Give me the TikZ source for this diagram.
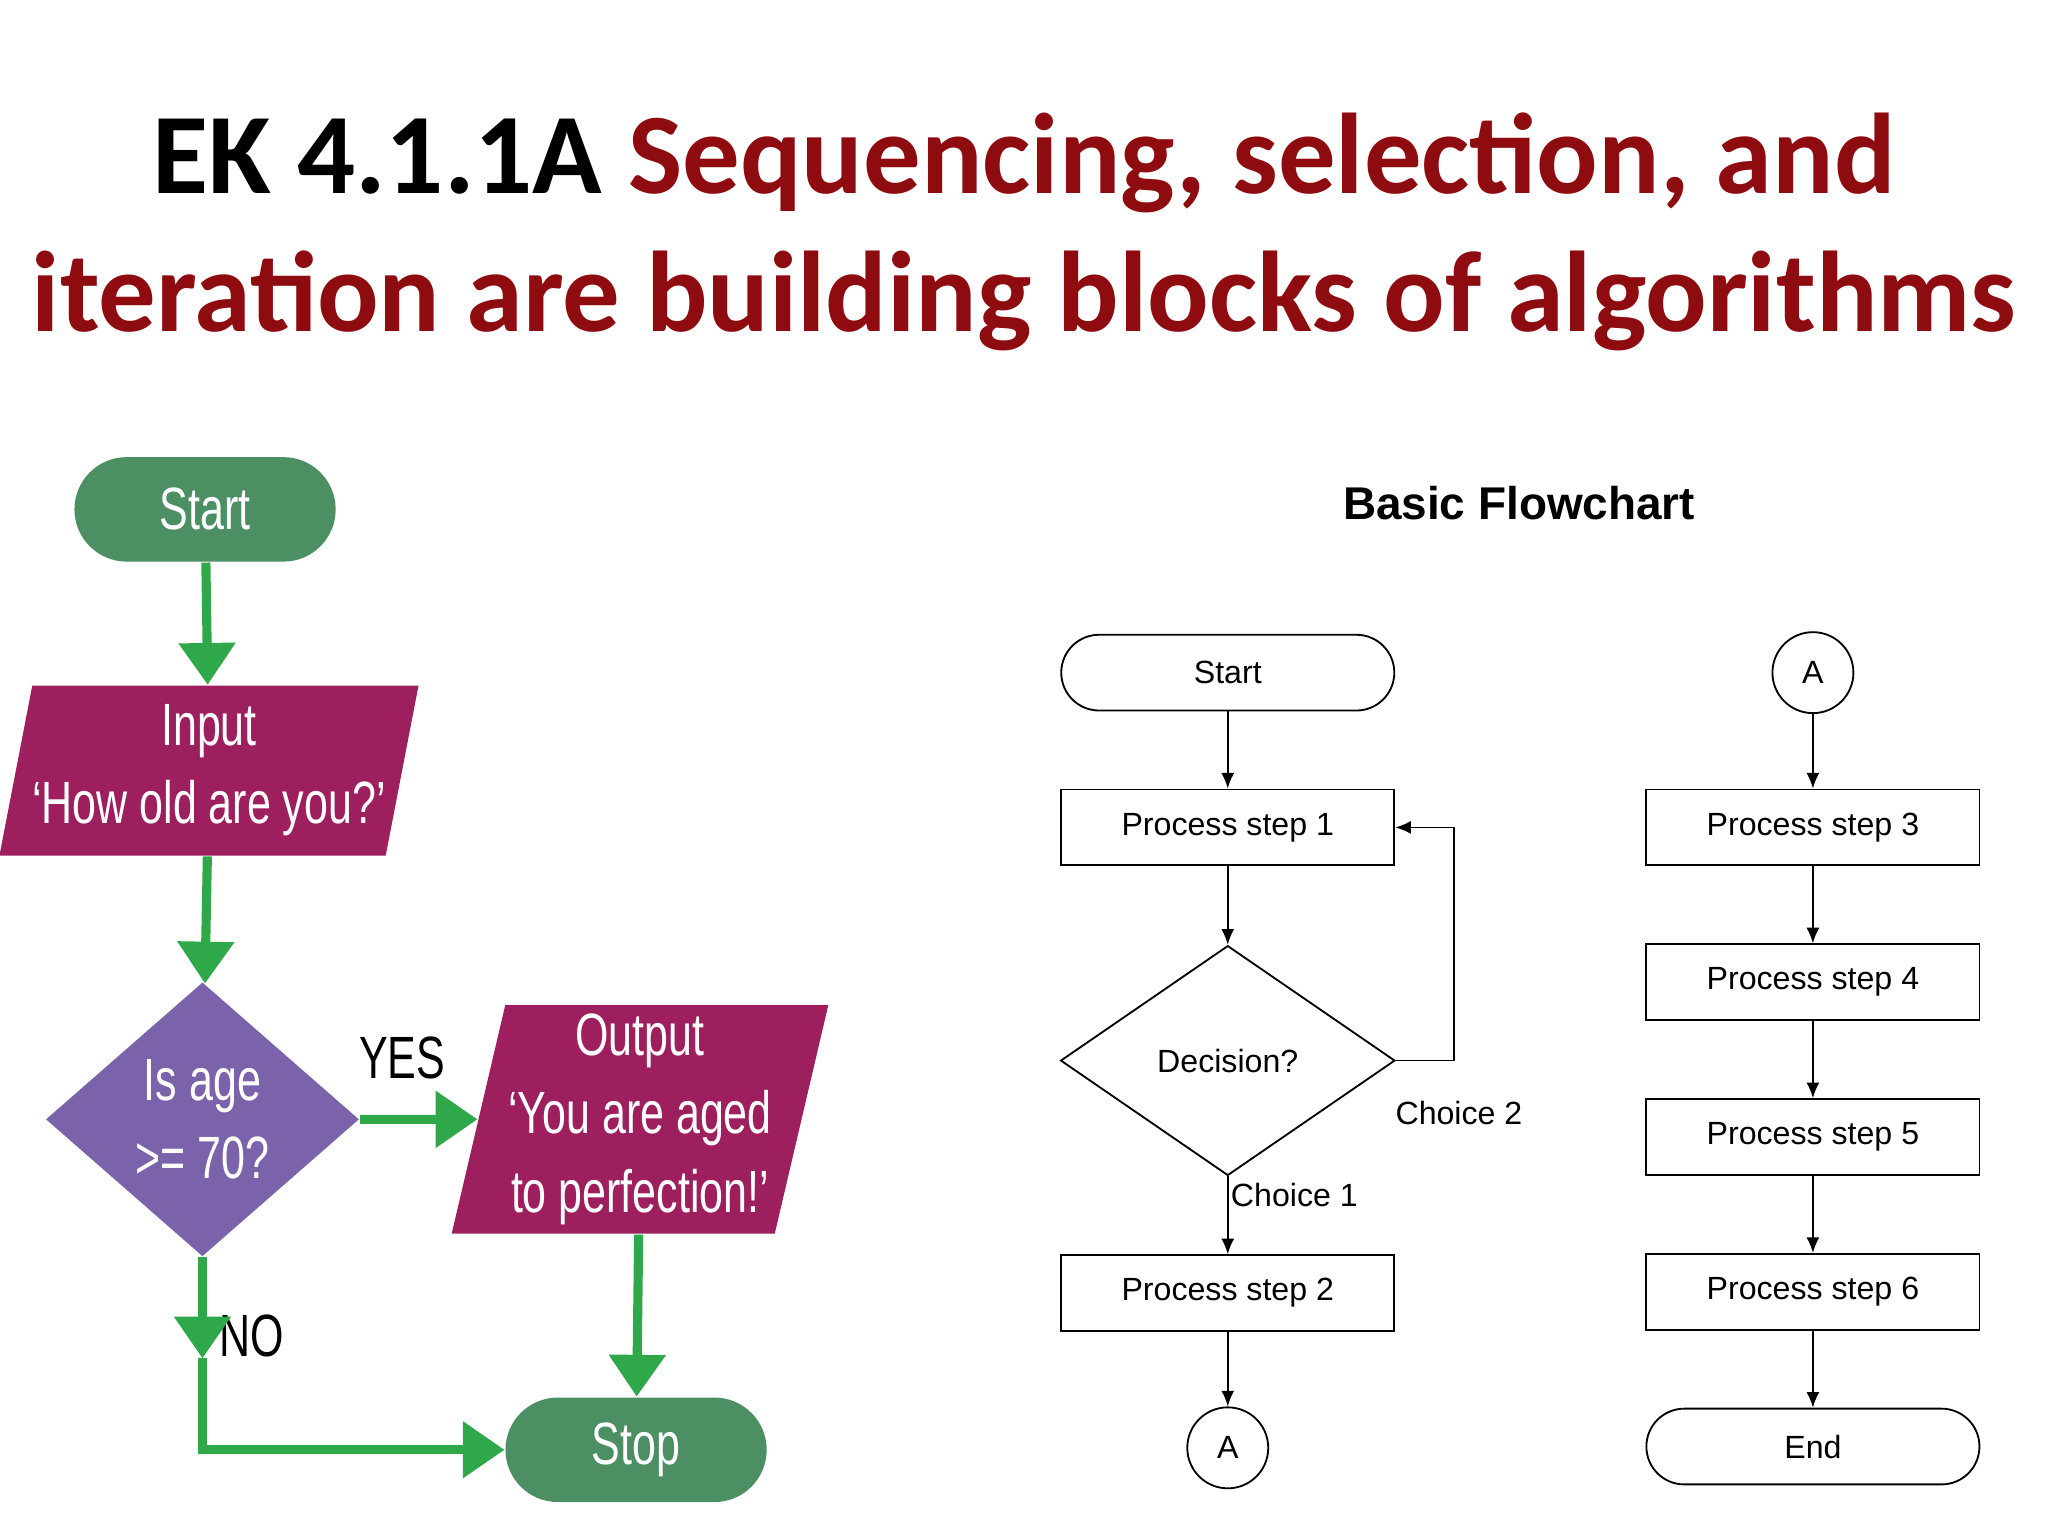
\documentclass[tikz,border=0pt]{standalone}
\usepackage{fontspec}
\setmainfont{Carlito}
\newfontfamily\narrowf{Liberation Sans}[FakeStretch=0.72]
\newfontfamily\chartf{Liberation Sans}
\usetikzlibrary{arrows.meta,shapes.geometric,positioning}
\definecolor{darkred}{HTML}{8E0C10}
\definecolor{termgreen}{HTML}{4B8F63}
\definecolor{iomagenta}{HTML}{9E1F5E}
\definecolor{decpurple}{HTML}{7A63AA}
\definecolor{arrgreen}{HTML}{2FA84A}

\tikzset{
  term/.style={rectangle,rounded corners=0.4cm,fill=termgreen,text=white,minimum width=2cm,minimum height=0.8cm,font=\narrowf\fontsize{13}{16}\selectfont},
  io/.style={trapezium,trapezium left angle=76,trapezium right angle=104,trapezium stretches=true,fill=iomagenta,text=white,align=center,font=\narrowf\fontsize{13}{17}\selectfont,inner sep=0pt},
  dec/.style={diamond,fill=decpurple,text=white,align=center,minimum width=2.4cm,minimum height=2.1cm,inner sep=0pt,font=\narrowf\fontsize{13}{17}\selectfont},
  garrow/.style={arrgreen,line width=0.07cm,-{Triangle[length=0.32cm,width=0.42cm]}},
  lbl/.style={font=\narrowf\fontsize{13}{16}\selectfont},
  box/.style={draw,minimum width=2.55cm,minimum height=0.58cm,font=\chartf\fontsize{7}{8}\selectfont},
  oval/.style={draw,rectangle,rounded corners=0.29cm,minimum width=2.55cm,minimum height=0.58cm,font=\chartf\fontsize{7}{8}\selectfont},
  conn/.style={draw,circle,minimum size=0.62cm,inner sep=0pt,font=\chartf\fontsize{7}{8}\selectfont},
  chlbl/.style={font=\chartf\fontsize{7}{8}\selectfont},
  arr/.style={-{Latex[length=0.12cm,width=0.1cm]}}
}

\begin{document}
\begin{tikzpicture}[node distance=1.185cm]
\useasboundingbox (0,0) rectangle (15.68,-11.76);
% title
\node (t1) at (7.84,-1.25) {\fontsize{25}{30}\selectfont\bfseries EK 4.1.1A \textcolor{darkred}{Sequencing, selection, and}};
\node (t2) at (7.84,-2.30) {\fontsize{25}{30}\selectfont\bfseries\color{darkred} iteration are building blocks of algorithms};

% left chart
\node[term] (start) at (1.57,-3.90) {Start};
\node[io,minimum width=3.2cm,minimum height=1.3cm] (input) at (1.60,-5.90) {Input\\‘How old are you?’};
\node[dec] (age) at (1.55,-8.57) {Is age\\>= 70?};
\node[io,minimum width=2.9cm,minimum height=1.75cm] (output) at (4.90,-8.57) {Output\\‘You are aged\\to perfection!’};
\node[term] (stop) at (4.87,-11.10) {Stop};
\node[lbl] (yes) at (3.08,-8.10) {YES};
\node[lbl] (no) at (1.93,-10.23) {NO};
\coordinate (nodown) at (1.55,-10.40);

\draw[garrow] (start) -- (input);
\draw[garrow] (input) -- (age);
\draw[garrow] (age) -- (output);
\draw[garrow] (output) -- (stop);
\draw[garrow] (age) -- (nodown);
\draw[garrow] (nodown) |- (stop);

% right chart
\node[font=\chartf\bfseries\fontsize{10}{12}\selectfont] (head) at (11.63,-3.85) {Basic Flowchart};
\node[oval] (s) at (9.40,-5.15) {Start};
\node[box,below of=s] (p1) {Process step 1};
\node[draw,diamond,aspect=1.45,minimum width=2.56cm,minimum height=1.76cm,inner sep=0pt,chlbl] (d) at (9.40,-8.12) {Decision?};
\node[box] (p2) at (9.40,-9.90) {Process step 2};
\node[conn,below of=p2] (a1) {A};
\node[chlbl] (c2) at (11.17,-8.52) {Choice 2};
\node[chlbl] (c1) at (9.91,-9.15) {Choice 1};
\coordinate (loop) at (11.13,-8.12);

\node[conn] (a2) at (13.88,-5.15) {A};
\node[box,below of=a2] (p3) {Process step 3};
\node[box,below of=p3] (p4) {Process step 4};
\node[box,below of=p4] (p5) {Process step 5};
\node[box,below of=p5] (p6) {Process step 6};
\node[oval,below of=p6] (end) {End};

\draw[arr] (s) -- (p1);
\draw[arr] (p1) -- (d);
\draw[arr] (d) -- (p2);
\draw[arr] (p2) -- (a1);
\draw[arr] (d.east) -- (loop) |- (p1.east);
\draw[arr] (a2) -- (p3);
\draw[arr] (p3) -- (p4);
\draw[arr] (p4) -- (p5);
\draw[arr] (p5) -- (p6);
\draw[arr] (p6) -- (end);
\end{tikzpicture}
\end{document}
